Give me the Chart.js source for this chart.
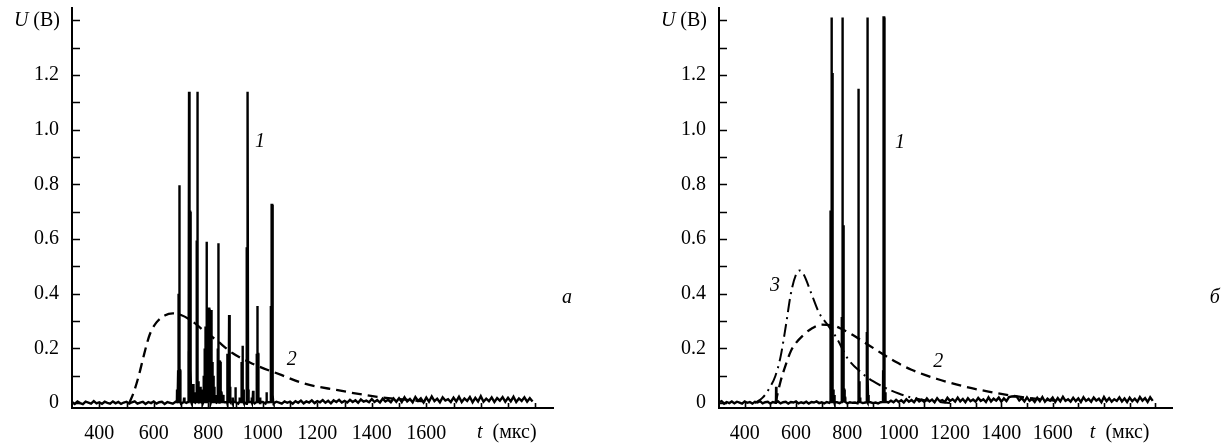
<!DOCTYPE html>
<html>
<head>
<meta charset="utf-8">
<script src="https://cdn.jsdelivr.net/npm/chart.js@4.4.1/dist/chart.umd.min.js"></script>
<style>
  body { margin: 0; background: #fff; }
  #wrap { position: relative; width: 1231px; height: 446px; }
  canvas { position: absolute; top: 0; }
  #chartA { left: 0; }
  #chartB { left: 615px; }
</style>
</head>
<body>
<div id="wrap">
  <canvas id="chartA" width="615" height="446"></canvas>
  <canvas id="chartB" width="616" height="446"></canvas>
</div>
<script>
const serif = "'Liberation Serif', 'Times New Roman', serif";

// axis ticks
const xTicks = [400, 500, 600, 700, 800, 900, 1000, 1100, 1200, 1300, 1400, 1500, 1600, 1700, 1800, 1900, 2000];
const xTickLabels = ['400', '', '600', '', '800', '', '1000', '', '1200', '', '1400', '', '1600', '', '', '', ''];
const yTicks = [0, 0.1, 0.2, 0.3, 0.4, 0.5, 0.6, 0.7, 0.8, 0.9, 1.0, 1.1, 1.2, 1.3, 1.4];
const yTickLabels = ['0', '', '0.2', '', '0.4', '', '0.6', '', '0.8', '', '1.0', '', '1.2', '', ''];

// baseline noise of curve 1, one sample every 10 us from 300 us
const noiseStart = 300, noiseStep = 10;
const noiseA = [
  0.004, -0.003, 0.006, 0.000, -0.004, 0.005, 0.002, -0.002, 0.007, -0.001, 0.003, -0.003, 0.005, 0.001, -0.002, 0.006, -0.001, 0.004, -0.003, 0.002,
  0.005, -0.002, 0.003, 0.006, -0.002, 0.002, 0.005, -0.003, 0.004, 0.000, 0.006, -0.002, 0.003, 0.005, -0.003, 0.004, 0.001, -0.002, 0.005, 0.002,
  -0.002, 0.004, 0.001, 0.006, -0.002, 0.003, 0.000, 0.005, -0.003, 0.004, 0.002, -0.001, 0.006, 0.001, -0.002, 0.004, 0.003, -0.002, 0.005, 0.000,
  0.004, -0.002, 0.006, 0.001, -0.003, 0.005, 0.002, -0.001, 0.006, 0.000, 0.004, -0.002, 0.003, 0.007, -0.001, 0.005, 0.002, -0.002, 0.006, 0.001,
  0.005, -0.002, 0.007, 0.001, 0.009, -0.001, 0.006, 0.002, 0.010, 0.000, 0.007, 0.003, 0.011, 0.001, 0.008, -0.001, 0.010, 0.004, 0.012, 0.002,
  0.008, 0.002, 0.012, 0.004, 0.010, 0.001, 0.013, 0.005, 0.009, 0.003, 0.015, 0.004, 0.011, 0.002, 0.016, 0.006, 0.012, 0.003, 0.017, 0.005,
  0.018, 0.004, 0.021, 0.006, 0.015, 0.003, 0.022, 0.008, 0.017, 0.002, 0.020, 0.005, 0.024, 0.007, 0.016, 0.003, 0.021, 0.009, 0.014, 0.004,
  0.020, 0.006, 0.023, 0.004, 0.017, 0.008, 0.022, 0.003, 0.019, 0.006, 0.025, 0.005, 0.016, 0.007, 0.021, 0.004, 0.018, 0.009, 0.022, 0.005,
  0.019, 0.006, 0.023, 0.004, 0.017, 0.008, 0.021, 0.005, 0.018, 0.006
];
const noiseB = [
  0.003, 0.007, -0.002, 0.004, 0.000, 0.006, -0.001, 0.005, 0.002, -0.002, 0.006, 0.001, 0.004, -0.002, 0.005, 0.002, 0.007, -0.001, 0.003, 0.005,
  -0.002, 0.004, 0.001, 0.006, -0.001, 0.003, 0.005, -0.002, 0.004, 0.002, 0.006, -0.001, 0.003, 0.000, 0.005, -0.002, 0.004, 0.002, 0.006, 0.000,
  0.003, -0.001, 0.004, 0.001, 0.002, -0.001, 0.003, 0.000, 0.002, 0.001, -0.001, 0.003, 0.001, 0.002, -0.001, 0.003, 0.000, 0.002, 0.001, 0.003,
  0.000, 0.002, -0.001, 0.003, 0.001, 0.006, 0.002, 0.009, 0.003, 0.012, 0.004, 0.010, 0.002, 0.014, 0.005, 0.011, 0.003, 0.016, 0.006, 0.012,
  0.004, 0.017, 0.006, 0.013, 0.003, 0.018, 0.007, 0.011, 0.004, 0.019, 0.008, 0.014, 0.005, 0.020, 0.006, 0.015, 0.003, 0.018, 0.007, 0.013,
  0.005, 0.019, 0.008, 0.014, 0.004, 0.021, 0.006, 0.016, 0.009, 0.020, 0.005, 0.017, 0.007, 0.022, 0.024, 0.025, 0.024, 0.010, 0.018, 0.006,
  0.021, 0.008, 0.015, 0.004, 0.019, 0.007, 0.022, 0.005, 0.016, 0.009, 0.020, 0.004, 0.018, 0.006, 0.023, 0.008, 0.014, 0.005, 0.019, 0.007,
  0.017, 0.004, 0.021, 0.008, 0.015, 0.005, 0.020, 0.009, 0.016, 0.003, 0.022, 0.007, 0.018, 0.005, 0.014, 0.008, 0.021, 0.006, 0.017, 0.004,
  0.020, 0.007, 0.016, 0.005, 0.022, 0.009, 0.018, 0.004, 0.021, 0.008
];

// spikes of curve 1 (panel a)
const spikeTimesA = [686, 690, 692, 694, 696, 698, 712, 727, 730, 733, 736, 740, 745, 750, 757, 759, 761, 764, 768, 772,
  778, 783, 787, 790, 794, 797, 800, 803, 806, 809, 812, 815, 818, 822, 826, 835, 837, 840, 843, 847,
  855, 870, 874, 877, 880, 890, 900, 915, 922, 926, 930, 942, 945, 948, 960, 965, 978, 980, 983, 990,
  1014, 1030, 1034, 1037];
const spikeHeightsA = [0.05, 0.12, 0.40, 0.797, 0.12, 0.03, 0.02, 0.19, 1.139, 0.70, 0.12, 0.06, 0.07, 0.04, 0.03, 0.59, 1.139, 0.08, 0.05, 0.06,
  0.05, 0.10, 0.20, 0.28, 0.59, 0.25, 0.20, 0.345, 0.30, 0.22, 0.34, 0.15, 0.10, 0.06, 0.03, 0.20, 0.585, 0.157, 0.15, 0.04,
  0.03, 0.18, 0.18, 0.322, 0.06, 0.02, 0.058, 0.02, 0.15, 0.21, 0.05, 0.566, 1.139, 0.05, 0.02, 0.045, 0.18, 0.355, 0.18, 0.02,
  0.04, 0.355, 0.725, 0.03];

// spikes of curve 1 (panel b)
const spikeTimesB = [523, 734, 736, 739, 741, 743, 746, 750, 779, 782, 784, 787, 791, 843, 846, 850, 876, 878, 880, 883, 940, 943, 945, 948];
const spikeHeightsB = [0.06, 0.52, 0.70, 1.41, 1.207, 0.31, 0.05, 0.03, 0.31, 1.41, 0.65, 0.05, 0.02, 1.15, 0.08, 0.02, 0.26, 1.41, 0.10, 0.03, 0.12, 1.41, 0.99, 0.04];

// curve 2 (dashed)
const pulseTimesA = [510, 525, 545, 565, 585, 610, 640, 670, 700, 740, 780, 830, 890, 960, 1070, 1150, 1270, 1420, 1540, 1600];
const pulseValuesA = [0, 0.035, 0.10, 0.18, 0.25, 0.295, 0.32, 0.328, 0.322, 0.30, 0.268, 0.23, 0.182, 0.145, 0.102, 0.072, 0.048, 0.023, 0.011, 0.006];
const pulseTimesB = [520, 540, 560, 580, 600, 630, 660, 700, 740, 780, 820, 870, 920, 990, 1050, 1150, 1250, 1350, 1450, 1550, 1620];
const pulseValuesB = [0, 0.08, 0.14, 0.19, 0.22, 0.25, 0.272, 0.287, 0.285, 0.27, 0.25, 0.22, 0.19, 0.15, 0.122, 0.088, 0.062, 0.042, 0.026, 0.014, 0.008];

// curve 3 (dash-dot, panel b)
const pulse3Times = [440, 470, 500, 520, 540, 560, 580, 600, 615, 630, 660, 690, 720, 760, 800, 850, 900, 950, 1000, 1050, 1120, 1200];
const pulse3Values = [0, 0.02, 0.06, 0.10, 0.17, 0.28, 0.40, 0.47, 0.485, 0.47, 0.40, 0.33, 0.29, 0.235, 0.165, 0.115, 0.08, 0.055, 0.035, 0.02, 0.008, 0];

// each spike: narrow flat-topped pulse on the baseline
function buildTrace(noise, times, heights) {
    const pts = noise.map((v, i) => ({ x: noiseStart + i * noiseStep, y: v }));
    times.forEach((t, i) => {
        pts.push({ x: t - 1.1, y: 0.004 }, { x: t - 0.5, y: heights[i] }, { x: t + 0.5, y: heights[i] }, { x: t + 1.1, y: 0.004 });
    });
    pts.sort((a, b) => a.x - b.x);
    return pts;
}

function toPoints(ts, vs) {
    return ts.map((t, i) => ({ x: t, y: vs[i] }));
}

function lineSet(data, dash, width, smooth) {
    return {
        data: data,
        borderColor: '#000',
        borderWidth: width,
        borderDash: dash,
        borderJoinStyle: 'miter',
        pointRadius: 0,
        fill: false,
        tension: 0,
        cubicInterpolationMode: smooth ? 'monotone' : 'default'
    };
}

function drawParts(ctx, parts, px, py, align) {
    const fonts = parts.map(p => (p[1] ? 'italic ' : '') + '20px ' + serif);
    let w = 0;
    parts.forEach((p, i) => { ctx.font = fonts[i]; w += ctx.measureText(p[0]).width; });
    let cx = align === 'right' ? px - w : (align === 'left' ? px : px - w / 2);
    ctx.textAlign = 'left';
    parts.forEach((p, i) => {
        ctx.font = fonts[i];
        ctx.fillText(p[0], cx, py);
        cx += ctx.measureText(p[0]).width;
    });
}

// inward ticks + text notes
const decor = {
    id: 'decor',
    afterDraw(chart, args, opts) {
        const { ctx, scales: { x, y } } = chart;
        ctx.save();
        ctx.strokeStyle = '#000';
        ctx.lineWidth = 1.6;
        ctx.beginPath();
        y.ticks.forEach(tk => {
            const py = Math.round(y.getPixelForValue(tk.value)) + 0.5;
            ctx.moveTo(x.left, py);
            ctx.lineTo(x.left + 8, py);
        });
        x.ticks.forEach(tk => {
            const px = Math.round(x.getPixelForValue(tk.value)) + 0.5;
            ctx.moveTo(px, y.bottom);
            ctx.lineTo(px, y.bottom - 5);
        });
        ctx.stroke();
        ctx.fillStyle = '#000';
        ctx.textBaseline = 'middle';
        (opts.notes || []).forEach(n => {
            const px = x.getPixelForValue(n.t) + (n.dx || 0);
            const py = y.getPixelForValue(n.v) + (n.dy || 0);
            drawParts(ctx, n.parts, px, py, n.align || 'center');
        });
        ctx.restore();
    }
};

function makeChart(id, yWidth, padRight, datasets, notes) {
    const ctx = document.getElementById(id).getContext('2d');
    return new Chart(ctx, {
        type: 'line',
        data: { datasets: datasets },
        plugins: [decor],
        options: {
            responsive: false,
            animation: false,
            parsing: false,
            normalized: true,
            layout: { padding: { left: 0, top: 8, right: padRight, bottom: 0 } },
            plugins: { legend: { display: false }, tooltip: { enabled: false }, decor: { notes: notes } },
            scales: {
                x: {
                    type: 'linear',
                    min: 300,
                    max: 2065,
                    grid: { display: false, drawTicks: false },
                    border: { display: true, color: '#000', width: 2 },
                    afterBuildTicks: s => { s.ticks = xTicks.map(v => ({ value: v })); },
                    afterFit: s => { s.height = 38; s.paddingLeft = 0; s.paddingRight = 0; },
                    ticks: {
                        autoSkip: false, maxRotation: 0, minRotation: 0, padding: 14,
                        color: '#000', font: { family: serif, size: 20 },
                        callback: (v, i) => xTickLabels[i]
                    }
                },
                y: {
                    type: 'linear',
                    min: -0.018,
                    max: 1.445,
                    grid: { display: false, drawTicks: false },
                    border: { display: true, color: '#000', width: 2 },
                    afterBuildTicks: s => { s.ticks = yTicks.map(v => ({ value: v })); },
                    afterFit: s => { s.width = yWidth; s.paddingTop = 0; s.paddingBottom = 0; },
                    ticks: {
                        autoSkip: false, padding: 13,
                        color: '#000', font: { family: serif, size: 20 },
                        callback: (v, i) => yTickLabels[i]
                    }
                }
            }
        }
    });
}

makeChart('chartA', 72, 62, [
    lineSet(buildTrace(noiseA, spikeTimesA, spikeHeightsA), [], 2.4, false),
    lineSet(toPoints(pulseTimesA, pulseValuesA), [10, 6], 2.3, true)
], [
    { parts: [['U', true], [' (В)', false]], t: 300, v: 1.4, dx: -12, align: 'right' },
    { parts: [['t', true], ['  (мкс)', false]], t: 1786, v: -0.109, align: 'left' },
    { parts: [['1', true]], t: 990, v: 0.956 },
    { parts: [['2', true]], t: 1106, v: 0.157 },
    { parts: [['а', true]], t: 2116, v: 0.384 }
]);

makeChart('chartB', 104, 59, [
    lineSet(buildTrace(noiseB, spikeTimesB, spikeHeightsB), [], 2.4, false),
    lineSet(toPoints(pulseTimesB, pulseValuesB), [10, 6], 2.3, true),
    lineSet(toPoints(pulse3Times, pulse3Values), [13, 5, 2, 5], 2.0, true)
], [
    { parts: [['U', true], [' (В)', false]], t: 300, v: 1.4, dx: -12, align: 'right' },
    { parts: [['t', true], ['  (мкс)', false]], t: 1745, v: -0.109, align: 'left' },
    { parts: [['1', true]], t: 1005, v: 0.951 },
    { parts: [['2', true]], t: 1154, v: 0.151 },
    { parts: [['3', true]], t: 518, v: 0.43 },
    { parts: [['б', true]], t: 2232, v: 0.384 }
]);
</script>
</body>
</html>
